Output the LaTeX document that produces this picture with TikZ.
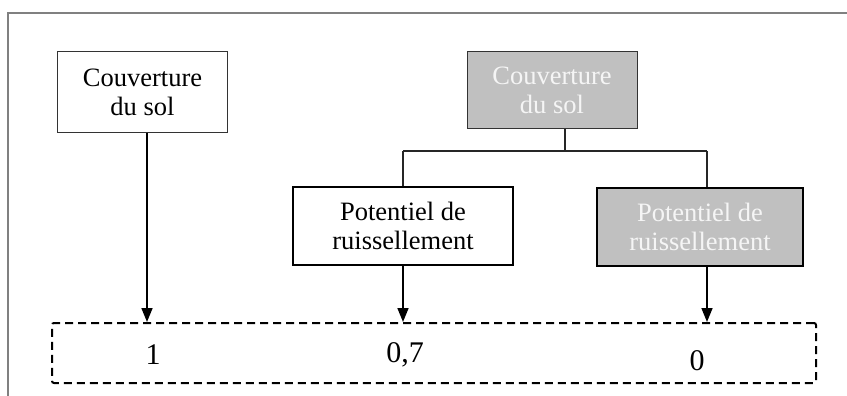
\documentclass[tikz,border=0pt]{standalone}
\usepackage{fontspec}
\setmainfont{Liberation Serif}
\usetikzlibrary{arrows.meta}
\definecolor{boxgray}{HTML}{C0C0C0}
\definecolor{framegray}{HTML}{808080}
\begin{document}
\begin{tikzpicture}[x=1pt,y=-1pt,
  lbl/.style={font=\fontsize{26.5}{29}\selectfont, align=center, inner sep=0pt},
  whitebox/.style={lbl, draw=black!80, line width=1pt, rectangle, fill=white},
  graybox/.style={lbl, draw=black!80, line width=1pt, rectangle, fill=boxgray, text=white!96!black},
  potbox/.style={line width=2pt, draw=black},
  conn/.style={line width=1.2pt, draw=black!85},
  arr/.style={line width=1.6pt, -{Triangle[width=11pt,length=14pt]}},
  valbox/.style={draw=black, line width=2pt, dash pattern=on 8pt off 5pt, rounded corners=2pt, rectangle},
  num/.style={font=\fontsize{30}{32}\selectfont, inner sep=0pt}
]
\useasboundingbox (0,0) rectangle (847,396);
\draw[framegray, line width=2pt] (8,396) -- (8,13) -- (847,13);

\node[whitebox, minimum width=170pt, minimum height=80pt] (cs1) at (142.5,92) {Couverture\\du sol};
\node[graybox, minimum width=170pt, minimum height=77pt] (cs2) at (552,90.5) {Couverture\\du sol};
\node[whitebox, potbox, minimum width=220pt, minimum height=78pt] (pr1) at (403,226) {Potentiel de\\ruissellement};
\node[graybox, potbox, minimum width=206pt, minimum height=78pt] (pr2) at (700,226.5) {Potentiel de\\ruissellement};

\node[valbox, minimum width=764pt, minimum height=60pt] (vals) at (434,353) {};
\node[num] (v1) at (153,355) {1};
\node[num] (v2) at (405,355) {0,7};
\node[num] (v3) at (697,361) {0};

\coordinate (j) at (565,151);
\coordinate (jl) at (403,151);
\coordinate (jr) at (707,151);
\draw[conn] (cs2.south -| j) -- (j);
\draw[conn] (jl) -- (jr);
\draw[conn] (jl) -- (jl |- pr1.north);
\draw[conn] (jr) -- (jr |- pr2.north);

\coordinate (a1) at (147,0);
\draw[arr] (a1 |- cs1.south) -- (a1 |- vals.north);
\draw[arr] (pr1.south) -- (pr1.south |- vals.north);
\draw[arr] (jr |- pr2.south) -- (jr |- vals.north);
\end{tikzpicture}
\end{document}
